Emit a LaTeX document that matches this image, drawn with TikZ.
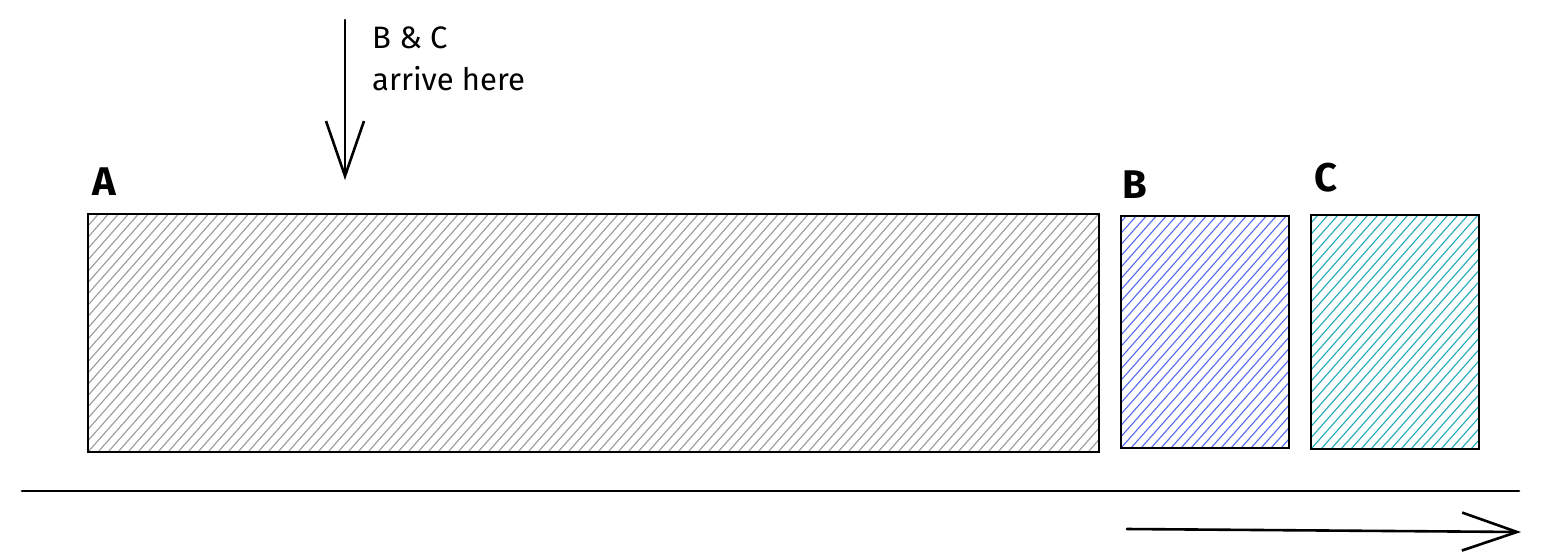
\documentclass[tikz,border=0pt]{standalone}
\usepackage{fontspec}
\setmainfont{Fira Sans}
\usetikzlibrary{arrows.meta}
\definecolor{hgray}{HTML}{9A9A9A}
\definecolor{hblue}{HTML}{5468F0}
\definecolor{hteal}{HTML}{1FAABB}
\begin{document}
\begin{tikzpicture}[x=1pt,y=-1pt,
  hatchbox/.style={draw=black, line width=2.6pt, inner sep=0pt, outer sep=0pt, anchor=north west,
    path picture={\foreach \k in {-280,-270,...,1040}{\draw[#1, line width=1.1pt] ([xshift=\k pt]path picture bounding box.south west) -- ++(230pt,260pt);}}},
  lab/.style={font=\fontsize{40}{40}\selectfont\bfseries, inner sep=0pt, anchor=base west},
  note/.style={font=\fontsize{31}{31}\selectfont, inner sep=0pt, anchor=base west},
  stroke/.style={line width=2.6pt, line cap=round},
  arr/.style={stroke, -{Straight Barb[length=55pt,width=38pt,line width=2.6pt]}}
]
\useasboundingbox (0,0) rectangle (1541,555);
\node[hatchbox=hgray, minimum width=1011pt, minimum height=238pt] (A) at (88,214) {};
\node[hatchbox=hblue, minimum width=168pt, minimum height=232pt] (B) at (1121,216) {};
\node[hatchbox=hteal, minimum width=168pt, minimum height=234pt] (C) at (1311,215) {};
\node[lab] (la) at (92,195) {A};
\node[lab] (lb) at (1122,198) {B};
\node[lab] (lc) at (1314,191) {C};
\node[note] (t1) at (372,48) {B \& C};
\node[note] (t2) at (372,90) {arrive here};
\coordinate (d1) at (345,20);
\coordinate (d2) at (345,180);
\draw[arr] (d1) -- (d2);
\coordinate (l1) at (22,491);
\coordinate (l2) at (1519,491);
\draw[stroke] (l1) -- (l2);
\coordinate (r1) at (1127,529);
\coordinate (r2) at (1521,532);
\draw[arr] (r1) -- (r2);
\end{tikzpicture}
\end{document}
